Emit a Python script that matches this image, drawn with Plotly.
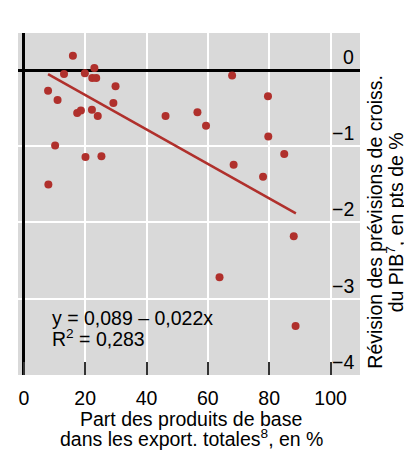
import plotly.graph_objects as go

# Data
share_commodities = [16.0, 23.0, 13.1, 19.9, 22.3, 23.6, 7.9, 29.9, 11.0, 29.2,
                     17.4, 18.6, 22.2, 24.1, 46.2, 56.6, 59.4, 10.2, 20.1, 25.3,
                     8.0, 67.9, 79.6, 79.7, 84.9, 68.4, 78.0, 88.0, 63.8, 88.6]
gdp_revision = [0.19, 0.03, -0.05, -0.04, -0.10, -0.10, -0.27, -0.21, -0.39, -0.43,
                -0.56, -0.53, -0.52, -0.60, -0.60, -0.55, -0.73, -0.99, -1.14, -1.13,
                -1.50, -0.07, -0.34, -0.87, -1.10, -1.24, -1.40, -2.18, -2.72, -3.36]
fit_x = [7.9, 88.7]
fit_y = [-0.05, -1.88]
x_ticks = [0, 20, 40, 60, 80, 100]
y_ticks = [0, -1, -2, -3, -4]
y_tick_labels = ["0", "−1", "−2", "−3", "−4"]
equation_lines = ["y = 0,089 – 0,022x", "R<sup>2</sup> = 0,283"]
x_title_lines = ["Part des produits de base", "dans les export. totales<sup>8</sup>, en %"]
y_title_lines = ["Révision des prévisions de croiss.", "du PIB<sup>7</sup>, en pts de %"]

RED = "#B0302C"
FONT = "Liberation Sans, Arial, sans-serif"
FS = 19.5

fig = go.Figure()
fig.add_trace(go.Scatter(x=fit_x, y=fit_y, mode="lines",
                         line=dict(color=RED, width=2.5), hoverinfo="skip"))
fig.add_trace(go.Scatter(x=share_commodities, y=gdp_revision, mode="markers",
                         marker=dict(color=RED, size=8, line=dict(width=0))))

# The page body has an 8px margin, so the figure is 8px smaller on each axis
fig.update_layout(
    width=404, height=442,
    margin=dict(l=10, r=52, t=25, b=75),
    paper_bgcolor="white", plot_bgcolor="#D9D9D9",
    showlegend=False,
    font=dict(family=FONT, size=FS, color="black"),
    xaxis=dict(range=[-1.9, 109.6], tickvals=x_ticks, ticks="inside", ticklen=13,
               tickwidth=1.5, tickcolor="#333", showgrid=True, gridcolor="white",
               gridwidth=1.8, zeroline=True, zerolinecolor="black", zerolinewidth=3,
               showline=False, tickfont=dict(size=FS), ticklabelstandoff=9),
    yaxis=dict(range=[-4.005, 0.49], tickvals=y_ticks, side="right",
               showticklabels=False, ticks="", showgrid=True,
               gridcolor="white", gridwidth=1.8, zeroline=True, zerolinecolor="black",
               zerolinewidth=2.5, showline=False),
)

# y tick labels, inside the plot, just above each gridline
for v, lab in zip(y_ticks, y_tick_labels):
    fig.add_annotation(text=lab, xref="paper", yref="y", x=0.988, y=v,
                       xanchor="right", yanchor="bottom", showarrow=False,
                       font=dict(size=FS))

# regression equation (two lines, tight spacing)
for txt, yy in zip(equation_lines, [-3.262, -3.52]):
    fig.add_annotation(text=txt, xref="x", yref="y", x=8.5, y=yy,
                       xanchor="left", yanchor="middle", align="left", showarrow=False,
                       font=dict(size=FS))

# x-axis title
for txt, yy in zip(x_title_lines, [-0.129, -0.183]):
    fig.add_annotation(text=txt, xref="paper", yref="paper", x=0.506, y=yy,
                       xanchor="center", yanchor="middle", align="center",
                       showarrow=False, font=dict(size=FS))

# y-axis title (rotated)
for txt, xx in zip(y_title_lines, [1.0455, 1.103]):
    fig.add_annotation(text=txt, xref="paper", yref="paper", x=xx, y=0.447,
                       xanchor="center", yanchor="middle", align="center",
                       showarrow=False, textangle=-90, font=dict(size=FS))

fig.write_html("out.html")
